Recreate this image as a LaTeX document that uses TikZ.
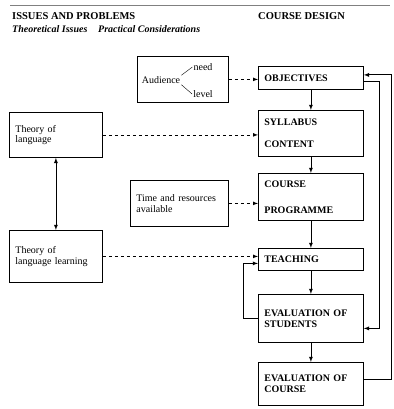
\documentclass[tikz,border=0pt]{standalone}
\usepackage{fontspec}
\setmainfont{Liberation Serif}
\usetikzlibrary{calc}

\tikzset{
  box/.style={draw, line width=0.8pt, inner xsep=6pt, inner ysep=2pt, align=left,
    font=\fontsize{10}{10.5}\selectfont},
  design/.style={box, font=\bfseries\fontsize{10}{11}\selectfont, text width=93pt},
  link/.style={-latex, line width=0.8pt},
  hint/.style={-latex, dashed, line width=0.7pt}
}

\begin{document}
\begin{tikzpicture}[x=1pt, y=-1pt]
            \useasboundingbox (0,0) rectangle (393,409);

            % headings
            \draw[gray, line width=0.6pt] (10,5) -- (390,5);
            \node[anchor=base west, inner sep=0pt, font=\bfseries\fontsize{10.5}{12}\selectfont] (issues) at (12,20) {ISSUES AND PROBLEMS};
            \node[anchor=base west, inner sep=0pt, font=\bfseries\fontsize{10.5}{12}\selectfont] (design) at (258,20) {COURSE DESIGN};
            \node[anchor=base west, inner sep=0pt, font=\bfseries\itshape\fontsize{10}{11}\selectfont] (theo) at (12,33) {Theoretical Issues};
            \node[anchor=base west, inner sep=0pt, font=\bfseries\itshape\fontsize{10}{11}\selectfont] (prac) at (98,33) {Practical Considerations};

            % course design column
            \node[design, anchor=north west, minimum height=23pt] (obj) at (258,66) {OBJECTIVES};
            \node[design, anchor=north west, minimum height=46pt] (syl) at (258,110) {SYLLABUS\\[11pt]CONTENT};
            \node[design, anchor=north west, minimum height=47pt] (crs) at (258,173) {COURSE\\[15pt]PROGRAMME};
            \node[design, anchor=north west, minimum height=22pt] (teach) at (258,248) {TEACHING};
            \node[design, anchor=north west, minimum height=48pt] (evs) at (258,294) {EVALUATION OF\\STUDENTS};
            \node[design, anchor=north west, minimum height=43pt] (evc) at (258,362) {EVALUATION OF\\COURSE};

            % theoretical issues
            \node[box, anchor=north west, text width=81pt, minimum height=45pt] (thl) at (9,112) {Theory of\\language};
            \node[box, anchor=north west, text width=81pt, minimum height=52pt] (tll) at (9,230) {Theory of\\language learning};

            % practical considerations
            \node[box, anchor=north west, text width=86pt, minimum height=46pt] (time) at (130,180) {Time and resources\\available};
            \node[box, anchor=north west, minimum width=91pt, minimum height=46pt] (aud) at (137,56) {};
            \node[inner sep=1pt, font=\fontsize{10}{11}\selectfont] (audtxt) at (161,80) {Audience};
            \node[inner sep=1pt, font=\fontsize{10}{11}\selectfont] (need) at (203,67) {need};
            \node[inner sep=1pt, font=\fontsize{10}{11}\selectfont] (level) at (203,94) {level};
            \draw (audtxt.north east) -- (need.west);
            \draw (audtxt.south east) -- (level.west);

            % main sequence
            \draw[link] (obj) -- (syl);
            \draw[link] (syl) -- (crs);
            \draw[link] (crs) -- (teach);
            \draw[link] (teach) -- (evs);
            \draw[link] (evs) -- (evc);

            % influences
            \draw[hint] (aud.east) -- (aud.east -| obj.west);
            \draw[hint] (thl.east) -- (thl.east -| syl.west);
            \draw[hint] (time.east) -- (time.east -| crs.west);
            \draw[hint] (tll.east) -- (tll.east -| teach.west);
            \draw[latex-latex, line width=0.8pt] (thl) -- (tll);

            % feedback
            \draw[link] (evs.west) -- ++(-15,0) |- ($(teach.west)+(0,4)$);
            \draw[link] ($(obj.east)+(0,4)$) -- ++(16,0) |- ($(evs.east)+(0,10)$);
            \draw[link] ($(evc.east)+(0,-5)$) -- ++(28,0) |- ($(obj.east)+(0,-3)$);

        \end{tikzpicture}
\end{document}
